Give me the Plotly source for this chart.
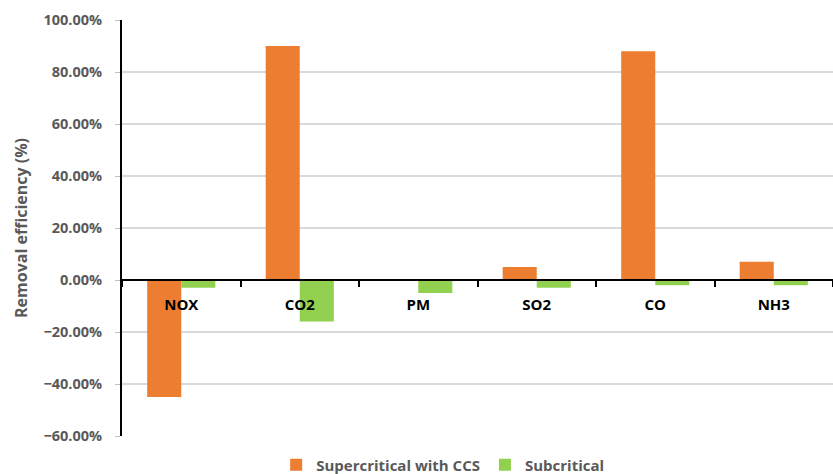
import plotly.graph_objects as go

# Pollutant categories and removal efficiencies (fractions)
pollutants = ["NOX", "CO2", "PM", "SO2", "CO", "NH3"]
supercritical_ccs = [-0.45, 0.90, 0.0, 0.05, 0.88, 0.07]
subcritical = [-0.03, -0.16, -0.05, -0.03, -0.02, -0.02]

y_min, y_max = -0.60, 1.00

fig = go.Figure()
fig.add_trace(go.Bar(
    name="Supercritical with CCS", x=pollutants, y=supercritical_ccs,
    marker=dict(color="#ED7D31", line=dict(width=0)),
))
fig.add_trace(go.Bar(
    name="Subcritical", x=pollutants, y=subcritical,
    marker=dict(color="#92D050", line=dict(width=0)),
))

font_family = "Open Sans"
gray = "#595959"

fig.update_layout(
    width=833, height=474,
    margin=dict(l=122, r=0, t=20, b=38, autoexpand=False),
    paper_bgcolor="white", plot_bgcolor="white",
    barmode="group", bargap=0.425, bargroupgap=0,
    font=dict(family=font_family, color=gray),
    showlegend=True,
    legend=dict(
        orientation="h", x=0.451, xanchor="center", xref="paper",
        y=-0.07, yanchor="middle",
        font=dict(size=15, color=gray, family=font_family, weight="bold"),
        itemwidth=30, tracegroupgap=0,
    ),
    xaxis=dict(
        anchor="free", position=(0 - y_min) / (y_max - y_min),
        showline=True, linecolor="black", linewidth=2,
        ticks="outside", tickson="boundaries", ticklen=6, tickwidth=1.5, tickcolor="black",
        tickfont=dict(size=15, color="black", family=font_family, weight="bold"),
        ticklabelstandoff=11,
        showgrid=False, zeroline=False,
    ),
    yaxis=dict(
        range=[y_min, y_max], dtick=0.2, tickformat=".2%",
        showline=True, linecolor="black", linewidth=2,
        ticks="outside", ticklen=5, tickcolor="#bfbfbf",
        tickfont=dict(size=14.5, color=gray, family=font_family, weight="bold"),
        ticklabelstandoff=10,
        showgrid=True, gridcolor="#d9d9d9", gridwidth=1.5,
        zeroline=False,
        title=dict(text="Removal efficiency (%)", standoff=12,
                   font=dict(size=16, color=gray, family=font_family, weight="bold")),
    ),
)

fig.write_html("out.html")
